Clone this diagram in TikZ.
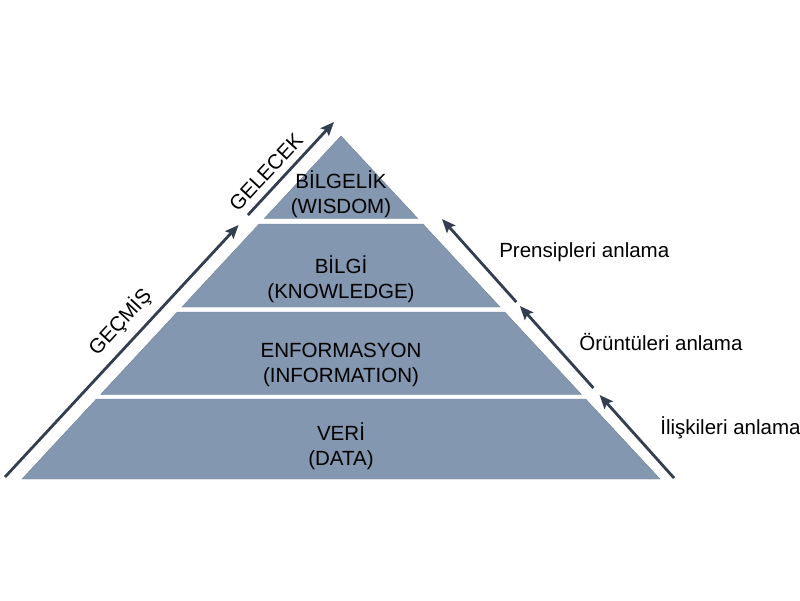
\documentclass[tikz,border=0pt]{standalone}
\usepackage{fontspec}
\setmainfont{Liberation Sans}
\usepackage{tikz}
\usetikzlibrary{
  arrows.meta,
  positioning,
  calc
}
\definecolor{dkLayer}{HTML}{8497B0}
\definecolor{dkEdge}{HTML}{6F8099}
\definecolor{dkArrow}{HTML}{333F50}
\tikzset{
  layer/.style={fill=dkLayer, draw=dkEdge, line width=0.3pt},
  layertext/.style={font=\fontsize{14.6}{17.8}\selectfont, align=center, inner sep=0pt},
  sidetag/.style={font=\fontsize{14.6}{17.8}\selectfont, inner sep=0pt, anchor=west},
  timetag/.style={font=\fontsize{14.6}{17.8}\selectfont, inner sep=0pt, rotate=47.2},
  timearrow/.style={-{Stealth[length=3.4mm, width=2.8mm, inset=0.6mm]}, line width=2pt, dkArrow},
  steparrow/.style={timearrow}
}

\begin{document}
\begin{tikzpicture}[x=0.025cm, y=-0.025cm]
  \useasboundingbox (0,0) rectangle (800,600);
  % pyramid layers
  \foreach \ya/\yb in {136/218.5, 224/307, 312/394.5, 399/479} {
    \draw[layer] ({341-0.93*(\ya-136)},\ya) -- ({341+0.93*(\ya-136)},\ya)
      -- ({341+0.93*(\yb-136)},\yb) -- ({341-0.93*(\yb-136)},\yb) -- cycle;
  }
  \node[layertext] (wisdom) at (341,194) {BİLGELİK\\(WISDOM)};
  \node[layertext] (knowledge) at (341,279) {BİLGİ\\(KNOWLEDGE)};
  \node[layertext] (information) at (341,365) {ENFORMASYON\\(INFORMATION)};
  \node[layertext] (data) at (341,446) {VERİ\\(DATA)};
  % time axis on the left
  \coordinate (pastA) at (5,477);
  \coordinate (pastB) at (238.6,225);
  \coordinate (futA) at (247.9,215);
  \coordinate (futB) at (334,122);
  \draw[timearrow] (pastA) -- (pastB);
  \draw[timearrow] (futA) -- (futB);
  \node[timetag] (past) at (120,322) {GEÇMİŞ};
  \node[timetag] (future) at (266,172) {GELECEK};
  % understanding steps on the right
  \coordinate (s0) at (674,478);
  \coordinate (s1h) at (599.6,395);
  \coordinate (s1) at (593.4,388);
  \coordinate (s2h) at (519.9,306);
  \coordinate (s2) at (516.3,302);
  \coordinate (s3h) at (442,219);
  \draw[steparrow] (s0) -- (s1h);
  \draw[steparrow] (s1) -- (s2h);
  \draw[steparrow] (s2) -- (s3h);
  \node[sidetag] (relations) at (660,428) {İlişkileri anlama};
  \node[sidetag] (patterns) at (579,342) {Örüntüleri anlama};
  \node[sidetag] (principles) at (499,252) {Prensipleri anlama};
\end{tikzpicture}
\end{document}
